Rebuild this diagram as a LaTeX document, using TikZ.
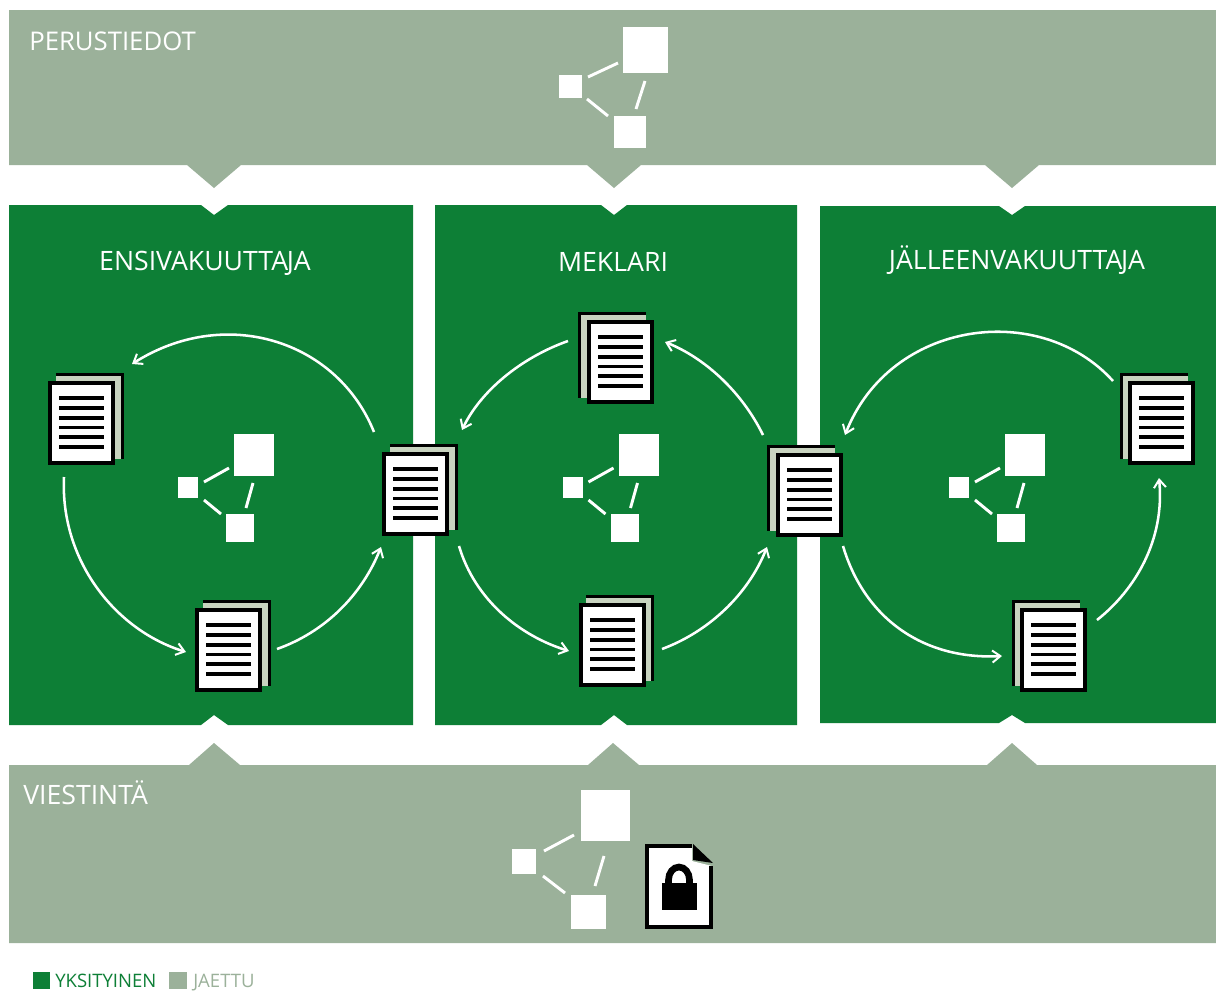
\documentclass[tikz,border=0pt]{standalone}
\usepackage{fontspec}
\setmainfont{Open Sans}
\usetikzlibrary{arrows.meta}
\definecolor{sage}{HTML}{9BB19A}
\definecolor{leaf}{HTML}{0D7F36}
\definecolor{pale}{HTML}{C8D3BF}
\tikzset{
  panelgray/.style={fill=sage,draw=none},
  panelgreen/.style={fill=leaf,draw=none},
  iconbox/.style={fill=white,draw=none},
  iconlink/.style={draw=white,line width=2.2pt},
  sheet/.style={draw=black,fill=white,line width=3pt,minimum width=47.25pt,minimum height=60pt,inner sep=0pt,outer sep=0pt},
  textline/.style={draw=black,line width=2.5pt},
  flow/.style={draw=white,line width=1.9pt,-{Straight Barb[length=6pt,width=9pt,line width=1.5pt]}},
  title/.style={text=white,font=\fontsize{20}{22}\selectfont,inner sep=0pt},
  legend/.style={font=\fontsize{13.9}{16}\selectfont,inner sep=0pt,anchor=base west}
}
\newcommand{\docstack}[4]{
  \fill[black] (#4,{#3-8}) rectangle ({#4+68},{#3+78});
  \fill[pale] ({#4+3*(#4>#2?0:1)},{#3-5}) rectangle ({#4+65+3*(#4>#2?0:1)},{#3+78});
  \node[sheet] (#1) at ({#2+33.5},{#3+42}) {};
  \foreach \d in {17,27,37,46.5,56,66}
    \draw[textline] ({#2+11},{#3+\d}) -- ({#2+56},{#3+\d});
}
\newcommand{\neticon}[3]{
  \begin{scope}[shift={(#2,#3)}]
    \node[iconbox,minimum width=30pt,minimum height=31.5pt,inner sep=0pt] (#1big) at (0,21) {};
    \node[iconbox,minimum width=15pt,minimum height=15.5pt,inner sep=0pt] (#1small) at (-66,53.5) {};
    \node[iconbox,minimum width=21pt,minimum height=21pt,inner sep=0pt] (#1mid) at (-14,94) {};
    \draw[iconlink] (-50,48) -- (-25,34);
    \draw[iconlink] (-50,66) -- (-33,80);
    \draw[iconlink] (-1,49) -- (-8,74);
  \end{scope}
}
\begin{document}
\begin{tikzpicture}[x=0.75pt,y=-0.75pt]
\useasboundingbox (0,0) rectangle (1216,990);
\fill[white] (0,0) rectangle (1216,990);
\path[panelgray] (9,10) -- (1216,10) -- (1216,165) -- (1039,165) -- (1012,188) -- (985,165) -- (641,165) -- (614,188) -- (587,165) -- (241,165) -- (214,188) -- (187,165) -- (9,165) -- cycle;
\path[panelgreen] (9,205) -- (201,205) -- (214,215) -- (228,205) -- (413,205) -- (413,725) -- (228,725) -- (214,715) -- (201,725) -- (9,725) -- cycle;
\path[panelgreen] (435,205) -- (601,205) -- (614,215) -- (627,205) -- (797,205) -- (797,725) -- (627,725) -- (614,715) -- (601,725) -- (435,725) -- cycle;
\path[panelgreen] (820,206) -- (999,206) -- (1012,215) -- (1025,206) -- (1216,206) -- (1216,723) -- (1025,723) -- (1012,715) -- (999,723) -- (820,723) -- cycle;
\path[panelgray] (9,765) -- (189,765) -- (214,743) -- (240,765) -- (588,765) -- (613,743) -- (639,765) -- (987,765) -- (1012,743) -- (1037,765) -- (1216,765) -- (1216,943) -- (9,943) -- cycle;
% titles
\node[title,anchor=base west,font=\fontsize{19.3}{22}\selectfont] (tperus) at (29,50) {PERUSTIEDOT};
\node[title,anchor=base] (tensi) at (205,270) {ENSIVAKUUTTA\kern-1pt JA};
\node[title,anchor=base] (tmek) at (613,271) {MEKLARI};
\node[title,anchor=base] (tjal) at (1017,269) {JÄLLEENVAKUUTTA\kern-1pt JA};
\node[title,anchor=base west] (tvies) at (23,804) {VIESTINTÄ};
% top icon
\node[iconbox,minimum width=34pt,minimum height=34.5pt,inner sep=0pt] (topbig) at (645.5,50) {};
\node[iconbox,minimum width=17pt,minimum height=17pt,inner sep=0pt] (topsmall) at (570.5,86.5) {};
\node[iconbox,minimum width=24pt,minimum height=24pt,inner sep=0pt] (topmid) at (630,132) {};
\draw[iconlink] (588,77) -- (618,63);
\draw[iconlink] (587,99) -- (608,116);
\draw[iconlink] (645,81) -- (636,109);
% bottom icon
\node[iconbox,minimum width=37pt,minimum height=38pt,inner sep=0pt] (botbig) at (605.5,815.5) {};
\node[iconbox,minimum width=18pt,minimum height=18.75pt,inner sep=0pt] (botsmall) at (524,861.5) {};
\node[iconbox,minimum width=26pt,minimum height=25.5pt,inner sep=0pt] (botmid) at (588.5,912) {};
\draw[iconlink] (544,851) -- (574,835);
\draw[iconlink] (543,876) -- (565,893);
\draw[iconlink] (604,856) -- (595,886);
% middle icons
\neticon{ie}{254}{434}
\neticon{im}{638.5}{434}
\neticon{ij}{1025}{434}
% documents
\docstack{e1}{48}{381}{56}
\docstack{e2}{195}{608}{203}
\docstack{e3}{382}{452}{390}
\docstack{m1}{587}{320}{578}
\docstack{m2}{579}{603}{586}
\docstack{m3}{776}{453}{767}
\docstack{j1}{1128}{381}{1120}
\docstack{j2}{1020}{608}{1012}
% arrow ends
\coordinate (a1s) at (374,432); \coordinate (a1e) at (132,364);
\coordinate (a2s) at (64,477);  \coordinate (a2e) at (186,652);
\coordinate (a3s) at (277,649); \coordinate (a3e) at (381,547);
\coordinate (b1s) at (568,341); \coordinate (b1e) at (462,430);
\coordinate (b2s) at (459,546); \coordinate (b2e) at (569,651);
\coordinate (b3s) at (662,649); \coordinate (b3e) at (767,547);
\coordinate (b4s) at (763,435); \coordinate (b4e) at (665,342);
\coordinate (c1s) at (1113,381); \coordinate (c1e) at (845,435);
\coordinate (c2s) at (843,546); \coordinate (c2e) at (1002,656);
\coordinate (c3s) at (1097,620); \coordinate (c3e) at (1159,478);
\draw[flow] (a1s) .. controls (337,340) and (225,305) .. (a1e);
\draw[flow] (a2s) .. controls (60,560) and (115,630) .. (a2e);
\draw[flow] (a3s) .. controls (325,632) and (362,595) .. (a3e);
\draw[flow] (b1s) .. controls (520,358) and (480,392) .. (b1e);
\draw[flow] (b2s) .. controls (475,600) and (520,636) .. (b2e);
\draw[flow] (b3s) .. controls (708,632) and (748,595) .. (b3e);
\draw[flow] (b4s) .. controls (742,392) and (705,358) .. (b4e);
\draw[flow] (c1s) .. controls (1040,300) and (890,320) .. (c1e);
\draw[flow] (c2s) .. controls (865,620) and (925,660) .. (c2e);
\draw[flow] (c3s) .. controls (1135,590) and (1165,540) .. (c3e);
% locked file
\fill[white] (646,846) -- (692,846) -- (692,861) -- (712,866) -- (712,927) -- (646,927) -- cycle;
\draw[black,line width=3pt,line join=miter] (692,846) -- (647,846) -- (647,927) -- (711,927) -- (711,866);
\fill[black] (693,844) -- (713,863) -- (693,860) -- cycle;
\node[fill=black,minimum width=26pt,minimum height=20.25pt,inner sep=0pt] (lockbody) at (679.5,896.5) {};
\draw[black,line width=5pt] (668.5,886) -- (668.5,880) arc[start angle=180,end angle=360,x radius=10.5,y radius=13] -- (689.5,886);
% legend
\node[minimum width=12.75pt,minimum height=12.75pt,inner sep=0pt,fill=leaf] (lg1) at (41.5,980.5) {};
\node[legend,text=leaf] (lt1) at (55,987) {YKSITYINEN};
\node[minimum width=13pt,minimum height=12.75pt,inner sep=0pt,fill=sage] (lg2) at (178,980.5) {};
\node[legend,text=sage] (lt2) at (193,987) {JAETTU};
\end{tikzpicture}
\end{document}
